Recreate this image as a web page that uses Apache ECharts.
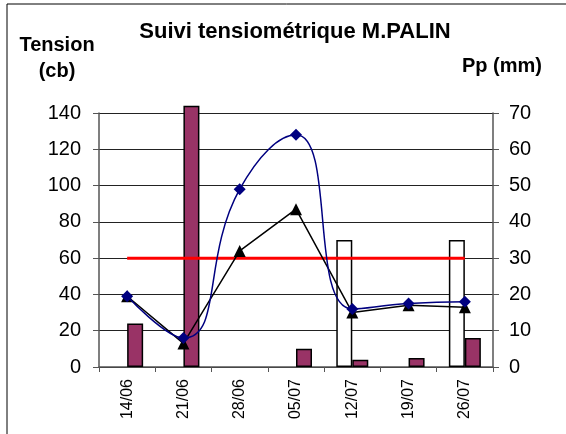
<!DOCTYPE html>
<html>
<head>
<meta charset="utf-8">
<script src="https://cdn.jsdelivr.net/npm/echarts@6/dist/echarts.min.js"></script>
<style>
  html, body { margin: 0; padding: 0; background: #fff; }
  #chart { width: 566px; height: 434px; }
</style>
</head>
<body>
<div id="chart"></div>
<script>
// dates de relevé
const dates = ['14/06', '21/06', '28/06', '05/07', '12/07', '19/07', '26/07']
// tension (cb), axe gauche
const tension1 = [39, 16, 98, 128, 32, 35, 36]
const tension2 = [39, 13, 64, 87, 30, 34, 33]
const seuil = [60, 60, 60, 60, 60, 60, 60]
// pluie / irrigation (mm), axe droit - null = pas de barre
const irrigation = [null, null, null, null, 35, null, 35]
const pluie = [12, 72, null, 5, 2, 2.5, 8]
// graduations [min, max, pas]
const leftTicks = [0, 140, 20]
const rightTicks = [0, 70, 10]

const chart = echarts.init(document.getElementById('chart'))

const font = 'Liberation Sans, Arial, sans-serif'
const axisGray = '#555'

const option = {
  animation: false,
  backgroundColor: '#fff',
  grid: { left: 99, right: 73, top: 113, bottom: 67 },
  graphic: [
    // cadre du graphique
    { type: 'line', shape: { x1: 7, y1: 4, x2: 566, y2: 4 }, style: { stroke: '#000', lineWidth: 1 } },
    { type: 'line', shape: { x1: 7, y1: 4, x2: 7, y2: 434 }, style: { stroke: '#000', lineWidth: 1 } },
    // titres
    { type: 'text', x: 295, y: 32, style: { text: 'Suivi tensiométrique M.PALIN', font: 'bold 22px ' + font, fill: '#000', textAlign: 'center', textVerticalAlign: 'middle' } },
    { type: 'text', x: 57, y: 45, style: { text: 'Tension', font: 'bold 20px ' + font, fill: '#000', textAlign: 'center', textVerticalAlign: 'middle' } },
    { type: 'text', x: 57, y: 71, style: { text: '(cb)', font: 'bold 20px ' + font, fill: '#000', textAlign: 'center', textVerticalAlign: 'middle' } },
    { type: 'text', x: 502, y: 66, style: { text: 'Pp (mm)', font: 'bold 20px ' + font, fill: '#000', textAlign: 'center', textVerticalAlign: 'middle' } }
  ],
  xAxis: {
    type: 'category',
    data: dates,
    boundaryGap: true,
    axisLine: { lineStyle: { color: axisGray, width: 1.5 } },
    axisTick: { show: true, length: 5, lineStyle: { color: axisGray } },
    axisLabel: { rotate: 90, fontSize: 16, color: '#000', fontFamily: font, margin: 12 }
  },
  yAxis: [
    {
      type: 'value',
      min: leftTicks[0],
      max: leftTicks[1],
      interval: leftTicks[2],
      axisLine: { show: true, lineStyle: { color: axisGray, width: 1.5 } },
      axisTick: { show: true, length: 6, lineStyle: { color: axisGray } },
      axisLabel: { fontSize: 20, color: '#000', fontFamily: font, margin: 18 },
      splitLine: { show: true, lineStyle: { color: '#222', width: 1 } }
    },
    {
      type: 'value',
      min: rightTicks[0],
      max: rightTicks[1],
      interval: rightTicks[2],
      axisLine: { show: true, lineStyle: { color: axisGray, width: 1.5 } },
      axisTick: { show: true, length: 6, lineStyle: { color: axisGray } },
      axisLabel: { fontSize: 20, color: '#000', fontFamily: font, margin: 16 },
      splitLine: { show: false }
    }
  ],
  series: [
    {
      type: 'bar',
      yAxisIndex: 1,
      data: irrigation,
      barWidth: 16,
      barGap: '0%',
      clip: false,
      itemStyle: { color: '#fff', borderColor: '#000', borderWidth: 1.5 }
    },
    {
      type: 'bar',
      yAxisIndex: 1,
      data: pluie,
      barWidth: 16,
      barGap: '0%',
      clip: false,
      itemStyle: { color: '#993366', borderColor: '#000', borderWidth: 1.5 }
    },
    {
      type: 'line',
      data: seuil,
      symbol: 'none',
      lineStyle: { color: '#ff0000', width: 3 },
      z: 3
    },
    {
      type: 'line',
      data: tension2,
      symbol: 'triangle',
      symbolSize: 12,
      itemStyle: { color: '#000' },
      lineStyle: { color: '#000', width: 1.5 },
      z: 4
    },
    {
      type: 'line',
      data: tension1,
      smooth: 0.5,
      symbol: 'diamond',
      symbolSize: 12,
      itemStyle: { color: '#000080' },
      lineStyle: { color: '#000080', width: 1.5 },
      z: 5
    }
  ]
}

chart.setOption(option)
</script>
</body>
</html>
